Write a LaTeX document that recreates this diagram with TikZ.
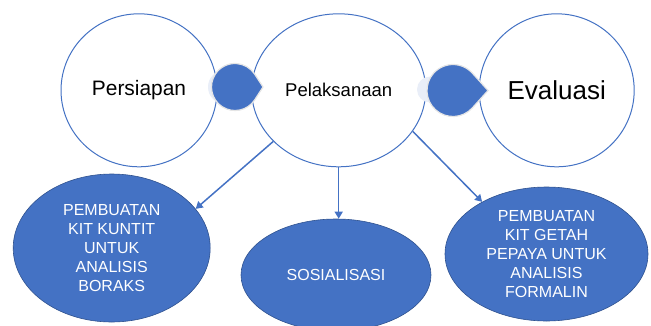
\documentclass[tikz,border=0pt]{standalone}
\usepackage{fontspec}
\setmainfont{Liberation Sans}
\usetikzlibrary{shapes.geometric,arrows.meta}
\definecolor{ablue}{HTML}{4472C4}
\definecolor{dblue}{HTML}{2F528F}
\definecolor{pale}{HTML}{E9EEF8}
\tikzset{
  ring/.style={ellipse, draw=ablue, line width=1pt, fill=white, inner sep=0pt, align=center},
  blob/.style={ellipse, draw=dblue, line width=0.6pt, fill=ablue, inner sep=0pt, align=center,
     text=white, font=\fontsize{16}{18.8}\selectfont},
  drop/.style={fill=ablue, draw=white!80!gray, line width=1.2pt},
  palec/.style={fill=pale, draw=none},
  conn/.style={draw=ablue, line width=1.5pt, -{Triangle[length=7pt,width=8pt]}}
}
\begin{document}
\begin{tikzpicture}[x=1pt,y=-1pt]
\useasboundingbox (0,0) rectangle (651,325);
\clip (0,0) rectangle (651,325);
% circles
\node[ring, minimum width=156pt, minimum height=153pt, font=\fontsize{20.9}{24}\selectfont] (prep) at (139,90.3) {Persiapan};
\node[ring, minimum width=174pt, minimum height=153pt, font=\fontsize{18.5}{22}\selectfont] (pel) at (338.7,90.3) {Pelaksanaan};
\node[ring, minimum width=155pt, minimum height=153pt, font=\fontsize{26}{30}\selectfont] (eval) at (556.7,90.3) {Evaluasi};
% teardrop connectors
\fill[palec] (225,87) circle[radius=17];
\draw[drop] (263,87) -- ([shift={(235,87)}] 32.9:23.5) arc[start angle=32.9, end angle=327.1, radius=23.5] -- cycle;
\fill[palec] (430,89.5) circle[radius=13];
\draw[drop] (488,90.5) -- ([shift={(453,90.5)}] 42:26) arc[start angle=42, end angle=318, radius=26] -- cycle;
% lower ellipses
\node[blob, minimum width=197pt, minimum height=148pt] (e1) at (111.7,248) {PEMBUATAN\\KIT KUNTIT\\UNTUK\\ANALISIS\\BORAKS};
\node[blob, minimum width=190pt, minimum height=112pt] (e2) at (336,275) {SOSIALISASI};
\node[blob, minimum width=203pt, minimum height=134pt] (e3) at (546.5,254) {PEMBUATAN\\KIT GETAH\\PEPAYA UNTUK\\ANALISIS\\FORMALIN};
% arrows
\draw[conn] (pel.218) -- (e1.25);
\draw[conn] (pel.south) -- (pel.south |- e2.north);
\draw[conn] (pel.331) -- (e3.141);
\end{tikzpicture}
\end{document}
